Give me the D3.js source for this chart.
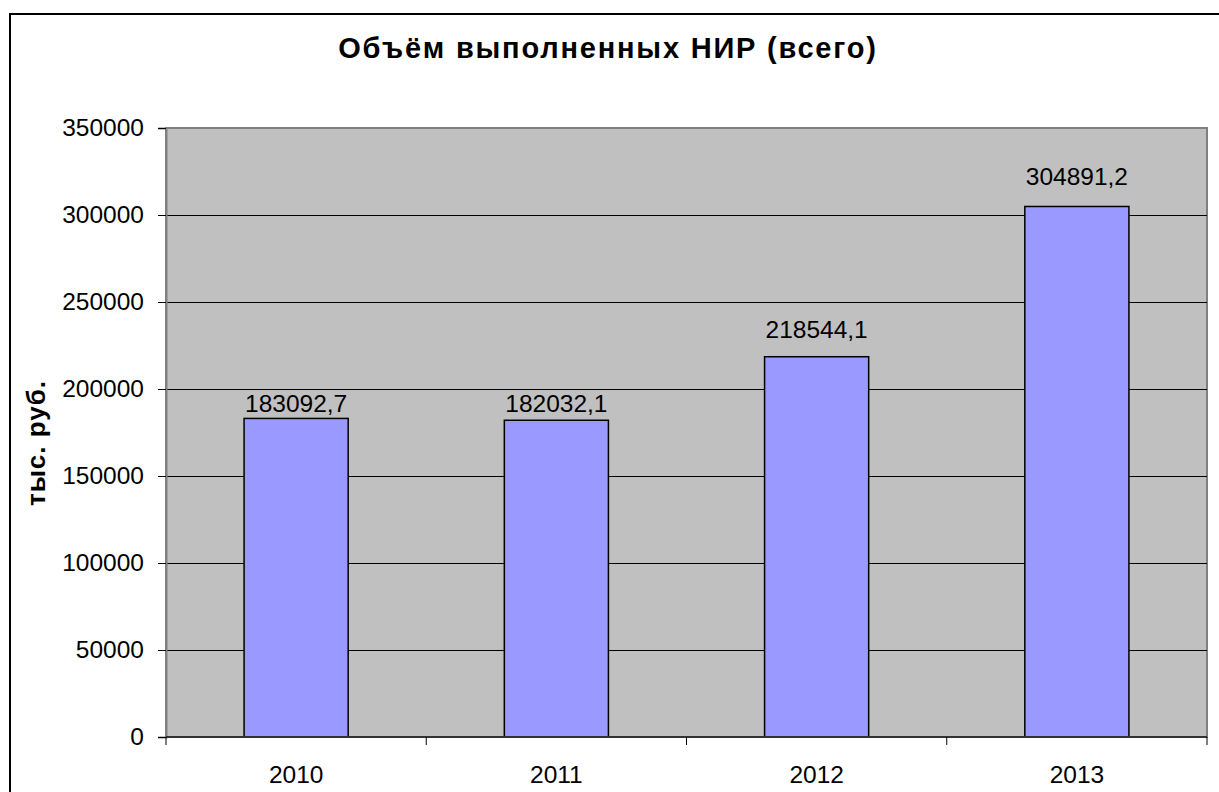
<!DOCTYPE html>
<html>
<head>
<meta charset="utf-8">
<title>НИР</title>
<script src="https://d3js.org/d3.v7.min.js"></script>
<style>
  body { margin: 0; background: #fff; overflow: hidden; }
  text { font-family: Arial, "Liberation Sans", sans-serif; fill: #000; }
</style>
</head>
<body>
<svg width="1219" height="792"></svg>
<script>
// data
var years = ["2010", "2011", "2012", "2013"];
var values = [183092.7, 182032.1, 218544.1, 304891.2];
var labels = ["183092,7", "182032,1", "218544,1", "304891,2"];
var yTicks = [0, 50000, 100000, 150000, 200000, 250000, 300000, 350000];
// label lift above each bar (labels were placed by hand in the original)
var labelLift = [6, 8, 19, 21];

var svg = d3.select("svg"),
    plot = { left: 166, right: 1207, top: 128, bottom: 737 };

// chart area border (extends past the right / bottom edge)
svg.append("rect")
  .attr("x", 10).attr("y", 14)
  .attr("width", 1240).attr("height", 820)
  .attr("fill", "#fff").attr("stroke", "#000").attr("stroke-width", 2);

var x = d3.scaleBand()
    .domain(years)
    .range([plot.left, plot.right]);

var y = d3.scaleLinear()
    .domain([0, 350000])
    .range([plot.bottom, plot.top]);

// plot area
svg.append("rect")
  .attr("x", plot.left).attr("y", plot.top)
  .attr("width", plot.right - plot.left).attr("height", plot.bottom - plot.top)
  .attr("fill", "#c0c0c0").attr("stroke", "#808080").attr("stroke-width", 2);

// gridlines
svg.append("g").selectAll("line")
  .data(yTicks.filter(function(d) { return d > 0 && d < 350000; }))
  .enter().append("line")
    .attr("x1", plot.left).attr("x2", plot.right)
    .attr("y1", function(d) { return Math.round(y(d)) + 0.5; })
    .attr("y2", function(d) { return Math.round(y(d)) + 0.5; })
    .attr("stroke", "#000").attr("stroke-width", 1);

// bars
var bw = x.bandwidth() / 2.5;
svg.append("g").selectAll("rect")
  .data(values)
  .enter().append("rect")
    .attr("x", function(d, i) { return x(years[i]) + (x.bandwidth() - bw) / 2; })
    .attr("y", function(d) { return y(d); })
    .attr("width", bw)
    .attr("height", function(d) { return y(0) - y(d); })
    .attr("fill", "#9999ff").attr("stroke", "#000").attr("stroke-width", 1.5);

// value labels
svg.append("g").selectAll("text")
  .data(values)
  .enter().append("text")
    .attr("x", function(d, i) { return x(years[i]) + x.bandwidth() / 2; })
    .attr("y", function(d, i) { return y(d) - labelLift[i]; })
    .attr("text-anchor", "middle")
    .style("font-size", "24.5px")
    .text(function(d, i) { return labels[i]; });

// y axis
var yAxis = svg.append("g")
  .attr("transform", "translate(" + plot.left + ",0)")
  .call(d3.axisLeft(y).tickValues(yTicks).tickSize(8).tickPadding(14).tickFormat(d3.format("d")));
yAxis.select(".domain").attr("stroke", "#808080").attr("stroke-width", 2);
yAxis.selectAll(".tick line").attr("stroke", "#000");
yAxis.selectAll("text").style("font-size", "24.5px").style("font-family", "Arial, 'Liberation Sans', sans-serif");

// x axis
var xAxis = svg.append("g")
  .attr("transform", "translate(0," + plot.bottom + ")")
  .call(d3.axisBottom(x).tickSize(0).tickPadding(29));
xAxis.select(".domain").remove();
xAxis.selectAll("text").style("font-size", "24.5px").style("font-family", "Arial, 'Liberation Sans', sans-serif");
svg.append("line")
  .attr("x1", plot.left).attr("x2", plot.right)
  .attr("y1", plot.bottom).attr("y2", plot.bottom)
  .attr("stroke", "#333").attr("stroke-width", 2);
svg.append("g").selectAll("line")
  .data(years.concat(["end"]))
  .enter().append("line")
    .attr("x1", function(d, i) { return plot.left + i * x.step(); })
    .attr("x2", function(d, i) { return plot.left + i * x.step(); })
    .attr("y1", plot.bottom).attr("y2", plot.bottom + 8)
    .attr("stroke", "#000");

// titles
svg.append("text")
  .attr("x", 608).attr("y", 58)
  .attr("text-anchor", "middle")
  .style("font-size", "29px").style("font-weight", "bold")
  .style("letter-spacing", "1.8px")
  .text("Объём выполненных НИР (всего)");

svg.append("text")
  .attr("transform", "translate(45,443) rotate(-90)")
  .attr("text-anchor", "middle")
  .style("font-size", "26px").style("font-weight", "bold")
  .style("letter-spacing", "1px")
  .text("тыс. руб.");
</script>
</body>
</html>
